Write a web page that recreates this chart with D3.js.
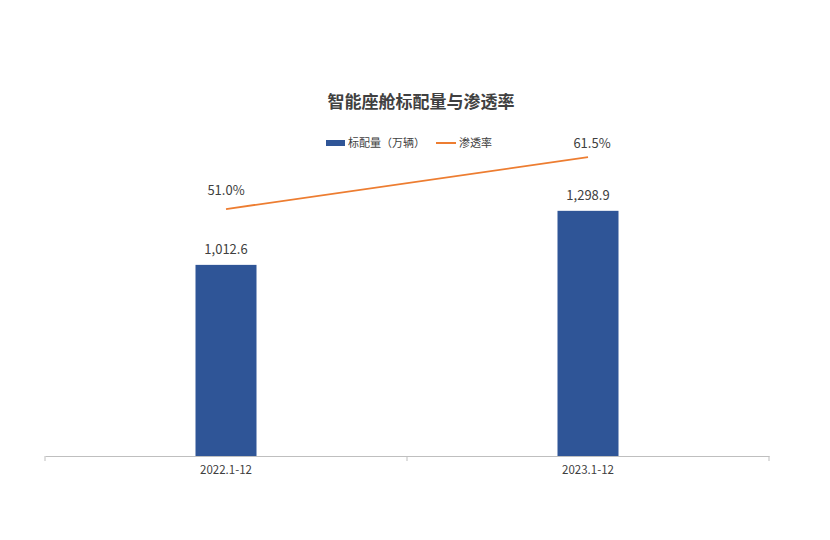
<!DOCTYPE html>
<html>
<head>
<meta charset="utf-8">
<script src="https://cdn.jsdelivr.net/npm/d3@7"></script>
<style>
  body { margin: 0; background: #fff; }
  text { font-family: "Noto Sans CJK SC", "Open Sans", sans-serif; }
</style>
</head>
<body>
<div id="chart"></div>
<script>
const width = 830;
const height = 540;

const categories = ["2022.1-12", "2023.1-12"];
const volume = [1012.6, 1298.9];
const rate = [0.510, 0.615];

const svg = d3.select("#chart")
  .append("svg")
  .attr("width", width)
  .attr("height", height);

const x = d3.scaleBand()
  .domain(categories)
  .range([45, 769])
  .paddingInner(0)
  .paddingOuter(0);

const y = d3.scaleLinear()
  .domain([0, 1600])
  .range([456, 154]);

const y2 = d3.scaleLinear()
  .domain([0, 0.7])
  .range([461.5, 115]);

const barW = 61;

// title
svg.append("text")
  .attr("x", 421)
  .attr("y", 108)
  .attr("text-anchor", "middle")
  .style("font-size", "17px")
  .style("font-weight", "bold")
  .style("fill", "#404040")
  .text("智能座舱标配量与渗透率");

// legend
const lg = svg.append("g");
lg.append("rect")
  .attr("x", 326).attr("y", 140)
  .attr("width", 19).attr("height", 6)
  .style("fill", "#2F5597");
lg.append("text")
  .attr("x", 348).attr("y", 147)
  .style("font-size", "11px")
  .style("fill", "#404040")
  .text("标配量（万辆）");
lg.append("line")
  .attr("x1", 436).attr("x2", 456)
  .attr("y1", 143).attr("y2", 143)
  .style("stroke", "#ED7D31")
  .style("stroke-width", 2);
lg.append("text")
  .attr("x", 459).attr("y", 147)
  .style("font-size", "11px")
  .style("fill", "#404040")
  .text("渗透率");

// axis
const axis = svg.append("g")
  .attr("transform", "translate(0,456)")
  .call(d3.axisBottom(x).tickSize(0).tickPadding(10));
axis.select(".domain").style("stroke", "#BFBFBF");
axis.selectAll(".tick text")
  .style("font-size", "11.5px")
  .style("fill", "#404040")
  .style("font-family", "\"Noto Sans CJK SC\", \"Open Sans\", sans-serif");

// tick marks at category boundaries
const bounds = [x.range()[0]].concat(categories.map(c => x(c) + x.bandwidth()));
svg.selectAll(".bound")
  .data(bounds)
  .enter()
  .append("line")
  .attr("x1", d => d).attr("x2", d => d)
  .attr("y1", 456).attr("y2", 461)
  .style("stroke", "#BFBFBF");

// bars
svg.selectAll(".bar")
  .data(volume)
  .enter()
  .append("rect")
  .attr("x", (d, i) => x(categories[i]) + x.bandwidth() / 2 - barW / 2)
  .attr("y", d => y(d))
  .attr("width", barW)
  .attr("height", d => y(0) - y(d))
  .style("fill", "#2F5597");

svg.selectAll(".barlabel")
  .data(volume)
  .enter()
  .append("text")
  .attr("x", (d, i) => x(categories[i]) + x.bandwidth() / 2)
  .attr("y", d => y(d) - 11)
  .attr("text-anchor", "middle")
  .style("font-size", "13px")
  .style("fill", "#404040")
  .text(d => d3.format(",.1f")(d));

// line
const line = d3.line()
  .x((d, i) => x(categories[i]) + x.bandwidth() / 2)
  .y(d => y2(d));

svg.append("path")
  .datum(rate)
  .attr("d", line)
  .style("fill", "none")
  .style("stroke", "#ED7D31")
  .style("stroke-width", 1.75);

svg.selectAll(".ratelabel")
  .data(rate)
  .enter()
  .append("text")
  .attr("x", (d, i) => x(categories[i]) + x.bandwidth() / 2 + (i === 1 ? 4 : 0))
  .attr("y", (d, i) => y2(d) - (i === 1 ? 9 : 14))
  .attr("text-anchor", "middle")
  .style("font-size", "13px")
  .style("fill", "#404040")
  .text(d => d3.format(".1%")(d));
</script>
</body>
</html>
